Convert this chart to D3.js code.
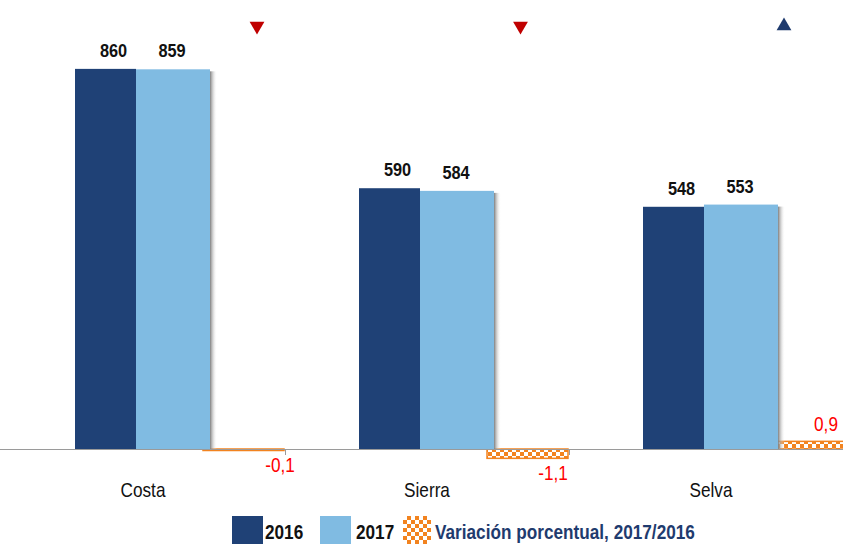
<!DOCTYPE html>
<html>
<head>
<meta charset="utf-8">
<script src="https://cdn.jsdelivr.net/npm/d3@7"></script>
<style>
  body { margin: 0; background: #fff; }
  svg text { font-family: "Liberation Sans Narrow", "Arial Narrow", "Liberation Sans", Arial, sans-serif; }
</style>
</head>
<body>
<div id="chart"></div>
<script>
// data
const categories = ['Costa', 'Sierra', 'Selva'];
const values2016 = [860, 590, 548];
const values2017 = [859, 584, 553];
const variation = [-0.1, -1.1, 0.9];
const variationLabels = ['-0,1', '-1,1', '0,9'];

const width = 843, height = 545;
const baseY = 449;
const narrow = 0.86; // fake a condensed face

const colors = { y2016: '#1f4176', y2017: '#80bbe2', orange: '#f2831f', navy: '#1f3b6e' };

const svg = d3.select('#chart').append('svg')
    .attr('width', width)
    .attr('height', height);

const defs = svg.append('defs');

// checker pattern for the variation bars
const pat = defs.append('pattern')
    .attr('id', 'checker')
    .attr('patternUnits', 'userSpaceOnUse')
    .attr('width', 8).attr('height', 8);
pat.append('rect').attr('width', 8).attr('height', 8).attr('fill', colors.orange);
pat.append('rect').attr('x', 0).attr('y', 0).attr('width', 4).attr('height', 4).attr('fill', '#fff');
pat.append('rect').attr('x', 4).attr('y', 4).attr('width', 4).attr('height', 4).attr('fill', '#fff');

// soft shadow on right side of bars
const grad = defs.append('linearGradient').attr('id', 'shadow');
grad.append('stop').attr('offset', '0%').attr('stop-color', '#7f7f7f');
grad.append('stop').attr('offset', '100%').attr('stop-color', '#ffffff').attr('stop-opacity', 0);

// scales
const x = d3.scaleBand().domain(categories).range([1, 853]);
const y = d3.scaleLinear().domain([0, 1000]).range([baseY, 7]);
const y2 = d3.scaleLinear().domain([0, 52]).range([baseY, 7]);
const markX = d3.scalePoint().domain(categories).range([257, 784]);
const varLabelX = d3.scalePoint().domain(categories).range([280, 826]);

const bar16 = { off: 74, w: 61 };
const bar17 = { off: 135, w: 74 };
const barVar = { off: 202, w: 81 };

const g = svg.append('g');

function pos(px, py) {
    return `translate(${px},${py}) scale(${narrow},1)`;
}

// variation bars (drawn first, behind)
g.selectAll('rect.var')
    .data(categories)
    .join('rect')
    .attr('class', 'var')
    .attr('x', d => x(d) + barVar.off)
    .attr('width', barVar.w)
    .attr('y', (d, i) => Math.min(y2(variation[i]), y2(0)))
    .attr('height', (d, i) => Math.max(1.5, Math.abs(y2(variation[i]) - y2(0))))
    .attr('fill', 'url(#checker)')
    .attr('stroke', colors.orange)
    .attr('stroke-width', 1.5);

// shadows
g.selectAll('rect.sh')
    .data(categories)
    .join('rect')
    .attr('class', 'sh')
    .attr('x', d => x(d) + bar17.off + bar17.w)
    .attr('width', 7)
    .attr('y', (d, i) => y(values2017[i]) + 2)
    .attr('height', (d, i) => y(0) - y(values2017[i]) - 2)
    .attr('fill', 'url(#shadow)');

g.selectAll('rect.b16')
    .data(categories)
    .join('rect')
    .attr('class', 'b16')
    .attr('x', d => x(d) + bar16.off)
    .attr('width', bar16.w)
    .attr('y', (d, i) => y(values2016[i]))
    .attr('height', (d, i) => y(0) - y(values2016[i]))
    .attr('fill', colors.y2016);

g.selectAll('rect.b17')
    .data(categories)
    .join('rect')
    .attr('class', 'b17')
    .attr('x', d => x(d) + bar17.off)
    .attr('width', bar17.w)
    .attr('y', (d, i) => y(values2017[i]))
    .attr('height', (d, i) => y(0) - y(values2017[i]))
    .attr('fill', colors.y2017);

// axis line + ticks
svg.append('line')
    .attr('x1', 0).attr('x2', width)
    .attr('y1', baseY + 0.5).attr('y2', baseY + 0.5)
    .attr('stroke', '#9a9a9a');
svg.selectAll('line.tick')
    .data(categories)
    .join('line')
    .attr('class', 'tick')
    .attr('x1', d => x(d) + x.bandwidth() + 0.5)
    .attr('x2', d => x(d) + x.bandwidth() + 0.5)
    .attr('y1', baseY).attr('y2', baseY + 6)
    .attr('stroke', '#9a9a9a');

// value labels
g.selectAll('text.l16')
    .data(categories)
    .join('text')
    .attr('transform', (d, i) => pos(x(d) + bar16.off + bar16.w / 2 + 8, y(values2016[i]) - 12))
    .attr('text-anchor', 'middle')
    .attr('font-size', 19)
    .attr('font-weight', 'bold')
    .attr('fill', '#111')
    .text((d, i) => values2016[i]);

g.selectAll('text.l17')
    .data(categories)
    .join('text')
    .attr('transform', (d, i) => pos(x(d) + bar17.off + 36, y(values2017[i]) - 12))
    .attr('text-anchor', 'middle')
    .attr('font-size', 19)
    .attr('font-weight', 'bold')
    .attr('fill', '#111')
    .text((d, i) => values2017[i]);

// variation labels
g.selectAll('text.lv')
    .data(categories)
    .join('text')
    .attr('transform', (d, i) => pos(varLabelX(d),
        variation[i] < 0 ? y2(variation[i]) + 22 : y2(variation[i]) - 10))
    .attr('text-anchor', 'middle')
    .attr('font-size', 20)
    .attr('fill', '#ff0000')
    .text((d, i) => variationLabels[i]);

// trend markers
const tri = d3.symbol().type(d3.symbolTriangle).size(95);
g.selectAll('path.mark')
    .data(categories)
    .join('path')
    .attr('d', tri)
    .attr('transform', (d, i) => `translate(${markX(d)},26) rotate(${variation[i] < 0 ? 180 : 0})`)
    .attr('fill', (d, i) => variation[i] < 0 ? '#c00000' : colors.navy);

// category labels
svg.selectAll('text.cat')
    .data(categories)
    .join('text')
    .attr('transform', d => pos(x(d) + x.bandwidth() / 2, 497))
    .attr('text-anchor', 'middle')
    .attr('font-size', 20)
    .attr('fill', '#111')
    .text(d => d);

// legend
const legend = [
    { label: '2016', fill: colors.y2016, color: '#111', x: 232, tx: 33 },
    { label: '2017', fill: colors.y2017, color: '#111', x: 320, tx: 36 },
    { label: 'Variación porcentual, 2017/2016', fill: 'url(#checker)', color: colors.navy, x: 403, tx: 32 }
];
const lg = svg.selectAll('g.leg')
    .data(legend)
    .join('g')
    .attr('transform', d => `translate(${d.x},516)`);
lg.append('rect')
    .attr('width', (d, i) => i === 2 ? 28 : 31)
    .attr('height', 28)
    .attr('fill', d => d.fill);
lg.append('text')
    .attr('transform', d => pos(d.tx, 23))
    .attr('font-size', 20)
    .attr('font-weight', 'bold')
    .attr('fill', d => d.color)
    .text(d => d.label);
</script>
</body>
</html>
